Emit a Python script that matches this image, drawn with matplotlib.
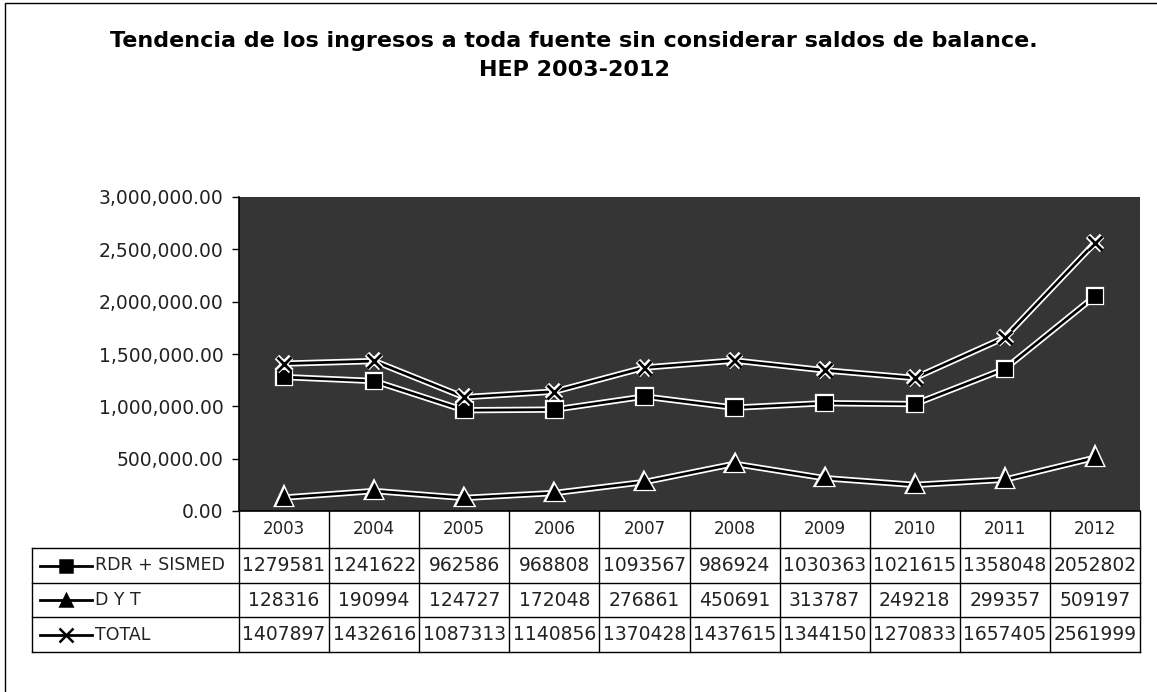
import numpy as np
import matplotlib.pyplot as plt
import matplotlib.patheffects as pe
from matplotlib.patches import Rectangle
from matplotlib.lines import Line2D

years = ["2003", "2004", "2005", "2006", "2007", "2008", "2009", "2010", "2011", "2012"]
rdr_sismed = [1279581, 1241622, 962586, 968808, 1093567, 986924, 1030363, 1021615, 1358048, 2052802]
dyt = [128316, 190994, 124727, 172048, 276861, 450691, 313787, 249218, 299357, 509197]
total = [1407897, 1432616, 1087313, 1140856, 1370428, 1437615, 1344150, 1270833, 1657405, 2561999]

series = [("RDR + SISMED", rdr_sismed, "s"), ("D Y T", dyt, "^"), ("TOTAL", total, "x")]
yticks = [0, 500000, 1000000, 1500000, 2000000, 2500000, 3000000]

plt.rcParams['font.family'] = ['DejaVu Sans']

W, H = 1157, 692
fig = plt.figure(figsize=(W / 100, H / 100), dpi=100)
fig.patch.set_facecolor("white")

# plot area in pixels
L, R, T, B = 239, 1140, 197, 511
ax = fig.add_axes([L / W, 1 - B / H, (R - L) / W, (B - T) / H])
ax.set_facecolor("#353535")

x = np.arange(len(years))
halo = [pe.Stroke(linewidth=4.5, foreground="white"), pe.Normal()]
for name, vals, mk in series:
    ax.plot(x, vals, color="black", lw=2, marker=mk, ms=9 if mk != "x" else 10,
            mew=2, mfc="black", mec="black", path_effects=halo, zorder=3)

ax.set_xlim(-0.5, len(years) - 0.5)
ax.set_ylim(0, 3000000)
ax.set_yticks(yticks)
ax.set_yticklabels([f"{v:,.2f}" for v in yticks], fontsize=13.5, color="#222222")
ax.set_xticks([])
ax.tick_params(axis="y", length=5, width=1, color="black", pad=6)
for s in ["top", "right"]:
    ax.spines[s].set_visible(False)
ax.spines["left"].set_linewidth(1.2)
ax.spines["bottom"].set_linewidth(1.2)

# data table under the plot (axes coordinates)
def ay(py):
    return (B - py) / (B - T)

def axx(px):
    return (px - L) / (R - L)

row_y = [ay(548), ay(583), ay(617), ay(652)]
kw = dict(transform=ax.transAxes, clip_on=False, color="black", lw=1)
n = len(years)
colw = 1.0 / n
for i in range(n + 1):
    ax.add_line(Line2D([i * colw, i * colw], [0.0, row_y[3]], **kw))
for i, yr in enumerate(years):
    ax.text((i + 0.5) * colw, row_y[0] / 2, yr, ha="center", va="center",
            fontsize=12, color="#222222", transform=ax.transAxes)
lx = axx(32)
for yy in row_y:
    ax.add_line(Line2D([lx, 1.0], [yy, yy], **kw))
ax.add_line(Line2D([lx, lx], [row_y[0], row_y[3]], **kw))

for r, (name, vals, mk) in enumerate(series):
    yc = (row_y[r] + row_y[r + 1]) / 2
    ax.add_line(Line2D([axx(40), axx(92)], [yc, yc], transform=ax.transAxes, clip_on=False,
                       color="black", lw=2))
    ax.add_line(Line2D([axx(66)], [yc], transform=ax.transAxes, clip_on=False, color="black",
                       marker=mk, ms=8 if mk != "x" else 10, mew=1.8, mfc="black", mec="black"))
    ax.text(axx(95), yc, name, ha="left", va="center", fontsize=12.5, color="#222222",
            transform=ax.transAxes)
    for i, v in enumerate(vals):
        ax.text((i + 0.5) * colw, yc, str(v), ha="center", va="center", fontsize=13.5,
                color="#222222", transform=ax.transAxes)

# titles
fig.text(574 / W, 1 - 41 / H, "Tendencia de los ingresos a toda fuente sin considerar saldos de balance.",
         ha="center", va="center", fontsize=16, fontweight="bold")
fig.text(574 / W, 1 - 70 / H, "HEP 2003-2012", ha="center", va="center", fontsize=16,
         fontweight="bold")

# outer chart frame
fig.add_artist(Rectangle((5 / W, -0.01), 1.02, 1 - 3 / H + 0.01, transform=fig.transFigure,
                         fill=False, lw=1, ec="black", clip_on=False))

fig.savefig("out.png", dpi=100)
